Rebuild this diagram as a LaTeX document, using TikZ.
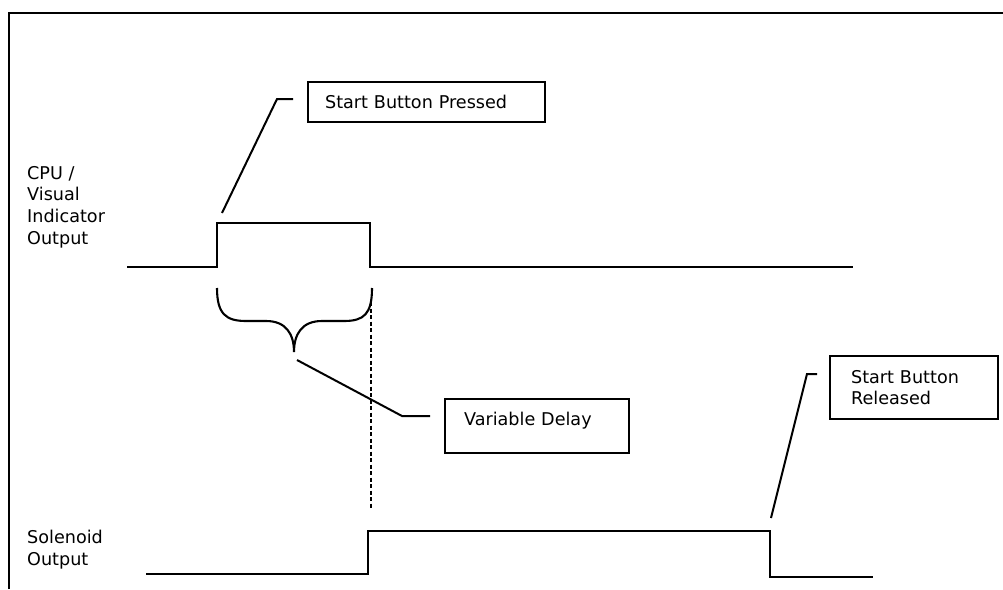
\documentclass[tikz,border=0pt]{standalone}
\usepackage{fontspec}
\newfontfamily\dvfont{DejaVu Sans}
\begin{document}
\begin{tikzpicture}[x=1pt,y=-1pt,
  txt/.style={font=\dvfont\fontsize{17.6}{21.6}\selectfont},
  wave/.style={line width=2.2pt, line join=miter},
  callout/.style={line width=2pt},
  cbox/.style={txt, draw, line width=2.2pt, anchor=north west, align=left, inner ysep=0pt, inner xsep=5pt},
  lbl/.style={txt, anchor=north west, align=left, inner sep=0pt}
]
\useasboundingbox (0,0) rectangle (1003,589);
\fill[white] (0,0) rectangle (1003,589);
% frame
\draw[line width=2.8pt] (9,589) -- (9,13) -- (1003,13);

% labels
\node[lbl] (cpu) at (27,166) {CPU /\\Visual\\Indicator\\Output};
\node[lbl] (sol) at (27,530) {Solenoid\\Output};

% waveforms
\coordinate (c0) at (127,267);
\coordinate (c1) at (217,267);
\coordinate (c2) at (217,223);
\coordinate (c3) at (370,223);
\coordinate (c4) at (370,267);
\coordinate (c5) at (853,267);
\draw[wave] (c0) -- (c1) -- (c2) -- (c3) -- (c4) -- (c5);

\coordinate (s0) at (146,574);
\coordinate (s1) at (368,574);
\coordinate (s2) at (368,531);
\coordinate (s3) at (770,531);
\coordinate (s4) at (770,577);
\coordinate (s5) at (873,577);
\draw[wave] (s0) -- (s1) -- (s2) -- (s3) -- (s4) -- (s5);

% boxes
\node[cbox, minimum width=237pt, minimum height=40pt, text width=203pt] (pressed) at (307,81) {Start Button Pressed};
\node[cbox, minimum width=184pt, minimum height=54pt, text width=146pt, text depth=14pt] (delay) at (444,398) {Variable Delay};
\node[cbox, minimum width=168pt, minimum height=63pt, text width=126pt] (released) at (829,355) {Start Button\\Released};

% brace
\coordinate (bl) at (217,288);
\coordinate (bt) at (294,352);
\coordinate (br) at (372,288);
\draw[line width=2.1pt] (bl) .. controls (217,314) and (226,321) .. (246,321) -- (266,321)
  .. controls (286,321) and (294,334) .. (bt)
  .. controls (294,334) and (302,321) .. (322,321) -- (344,321)
  .. controls (364,321) and (372,314) .. (br);

% dashed marker
\coordinate (d0) at (371,302);
\coordinate (d1) at (371,508);
\draw[line width=2.2pt, dash pattern=on 4pt off 2.5pt] (d0) -- (d1);

% callouts
\coordinate (p0) at (222,213);
\coordinate (p1) at (277,99);
\coordinate (p2) at (293,99);
\draw[callout] (p0) -- (p1) -- (p2);

\coordinate (v0) at (297,360);
\coordinate (v1) at (402,416);
\coordinate (v2) at (430,416);
\draw[callout] (v0) -- (v1) -- (v2);

\coordinate (r0) at (771,518);
\coordinate (r1) at (807,374);
\coordinate (r2) at (817,374);
\draw[callout] (r0) -- (r1) -- (r2);
\end{tikzpicture}
\end{document}
